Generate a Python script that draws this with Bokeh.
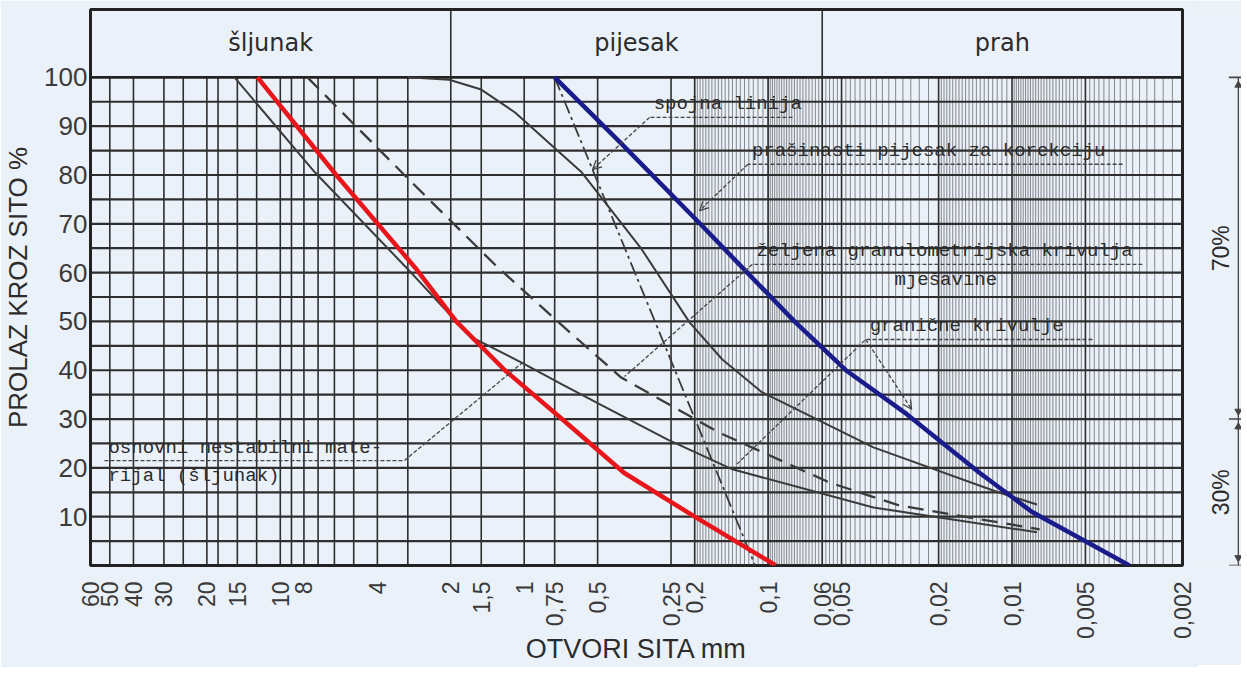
import numpy as np
from bokeh.plotting import figure
from bokeh.models import Range1d, FixedTicker, CustomJSTickFormatter, Arrow, OpenHead
from bokeh.layouts import row
from bokeh.embed import file_html
from bokeh.resources import INLINE
from bokeh.core.properties import value

# ---------------- data ----------------
# sieve openings (mm) used as axis labels
x_tick_values = [60, 50, 40, 30, 20, 15, 10, 8, 4, 2, 1.5, 1, 0.75, 0.5,
                 0.25, 0.2, 0.1, 0.06, 0.05, 0.02, 0.01, 0.005, 0.002]
y_tick_values = [10, 20, 30, 40, 50, 60, 70, 80, 90, 100]

# soil classes in the header row and their size limits (mm)
classes = ["šljunak", "pijesak", "prah"]
class_bounds = [60, 2, 0.06, 0.002]

# main vertical grid (sieve sizes, mm)
grid_sizes = [50, 40, 30, 25, 20, 18, 15, 12.5, 10, 9, 8, 7, 6, 5, 4, 3, 2,
              1.5, 1, 0.75, 0.5, 0.25, 0.2, 0.1, 0.06, 0.05, 0.02, 0.01, 0.005]

# red curve
red_size = [12.4, 5.9, 2.8, 1.9, 1.2, 0.70, 0.39, 0.20, 0.093]
red_pass = [100, 80, 61, 50, 40, 30, 19, 10, 0]

# blue curve - prašinasti pijesak za korekciju
blue_size = [0.75, 0.41, 0.19, 0.078, 0.048, 0.027, 0.0136, 0.0083, 0.0033]
blue_pass = [100, 87, 70, 50, 40, 31, 19, 11, 0]

# lower solid grey curve - osnovni nestabilni materijal / granična krivulja
g1_size = [15.4, 7.2, 3.0, 2.15, 1.63, 1.02, 0.70, 0.48, 0.258, 0.14, 0.037, 0.0079]
g1_pass = [100, 80.5, 60.7, 52.9, 46.7, 41.5, 37.1, 32.8, 25.8, 19.7, 11.9, 6.8]

# upper solid grey curve - granična krivulja
g2_size = [3.0, 2.03, 1.5, 1.09, 0.58, 0.33, 0.21, 0.154, 0.106, 0.037, 0.0114, 0.0079]
g2_pass = [100, 99.5, 97.5, 92.8, 80.5, 64.8, 49.8, 42.2, 35.5, 24.2, 15, 12.5]

# dashed curve - željena granulometrijska krivulja mješavine
mix_size = [7.74, 3.1, 1.31, 0.73, 0.40, 0.16, 0.056, 0.029, 0.0077]
mix_pass = [100, 80, 61.5, 50, 38.5, 27.3, 17, 12.3, 7.4]

# spojna linija (connecting line)
link_size = [0.75, 0.113]
link_pass = [100, 0]

# proportions on the right
split_pass = [0, 30, 100]
share_labels = ["30%", "70%"]

# ---------------- styling ----------------
BG = "#ebf1f9"
INK = "#2e2e2e"
CURVE = "#3b3b3b"
TXT = "#2c2c2c"
Y_TOP = 113.9

p = figure(x_axis_type="log", x_range=Range1d(60, 0.002), y_range=Range1d(0, Y_TOP),
           frame_width=1092, frame_height=556,
           min_border_left=80, min_border_right=16, min_border_top=9, min_border_bottom=100,
           output_backend="svg", toolbar_location=None,
           background_fill_color=BG, border_fill_color=BG)
p.xgrid.visible = False
p.ygrid.visible = False
p.outline_line_color = "#222222"
p.outline_line_width = 3

# x axis
p.xaxis.ticker = FixedTicker(ticks=x_tick_values, minor_ticks=[])
p.xaxis.formatter = CustomJSTickFormatter(code="return String(tick).replace('.', ',');")
p.xaxis.major_label_orientation = np.pi / 2
p.xaxis.major_label_text_font = "Liberation Sans"
p.xaxis.major_label_text_font_size = "23px"
p.xaxis.major_label_text_color = "#3a3a3a"
p.xaxis.major_label_standoff = 16
p.xaxis.major_tick_out = 0
p.xaxis.major_tick_in = 0
p.xaxis.major_tick_line_color = None
p.xaxis.minor_tick_line_color = None
p.xaxis.axis_line_color = None
p.xaxis.axis_label = "OTVORI SITA mm"
p.xaxis.axis_label_text_font = "Liberation Sans"
p.xaxis.axis_label_text_font_size = "27px"
p.xaxis.axis_label_text_font_style = "normal"
p.xaxis.axis_label_text_color = TXT
p.xaxis.axis_label_standoff = -8

# y axis
p.yaxis.ticker = FixedTicker(ticks=y_tick_values, minor_ticks=[])
p.yaxis.major_label_text_font = "Liberation Sans"
p.yaxis.major_label_text_font_size = "26px"
p.yaxis.major_label_text_color = "#3a3a3a"
p.yaxis.major_label_standoff = 3
p.yaxis.major_tick_out = 0
p.yaxis.major_tick_in = 0
p.yaxis.major_tick_line_color = None
p.yaxis.minor_tick_line_color = None
p.yaxis.axis_line_color = None
p.yaxis.axis_label = "PROLAZ KROZ SITO %"
p.yaxis.axis_label_text_font = "Liberation Sans"
p.yaxis.axis_label_text_font_size = "26px"
p.yaxis.axis_label_text_font_style = "normal"
p.yaxis.axis_label_text_color = TXT
p.yaxis.axis_label_standoff = 8

# fine hatching of the fine-grained part of the sieve scale
fine_sizes = np.concatenate([
    np.arange(0.105, 0.2, 0.005),
    np.arange(0.022, 0.1, 0.002),
    np.arange(0.0105, 0.02, 0.0005),
    np.arange(0.0022, 0.01, 0.0002),
])
p.segment(x0=fine_sizes, y0=0, x1=fine_sizes, y1=100,
          line_color="#4a4a4a", line_width=0.9, line_alpha=0.7)

# main vertical grid
p.segment(x0=grid_sizes, y0=0, x1=grid_sizes, y1=100,
          line_color=INK, line_width=1.6)

# horizontal grid every 5 %
h_levels = list(range(5, 100, 5))
p.segment(x0=60, y0=h_levels, x1=0.002, y1=h_levels, line_color=INK, line_width=2.2)
p.segment(x0=60, y0=100, x1=0.002, y1=100, line_color="#222222", line_width=2.8)

# header: class dividers and names
p.segment(x0=class_bounds[1:-1], y0=100, x1=class_bounds[1:-1], y1=Y_TOP,
          line_color=INK, line_width=1.6)
hdr_x = [float(np.sqrt(a * b)) for a, b in zip(class_bounds[:-1], class_bounds[1:])]
p.text(x=hdr_x, y=[(100 + Y_TOP) / 2] * len(classes), text=classes,
       text_font=value("DejaVu Sans"), text_font_size="24px", text_color=TXT,
       text_align="center", text_baseline="middle")

# curves
p.line(g1_size, g1_pass, line_color=CURVE, line_width=2)
p.line(g2_size, g2_pass, line_color=CURVE, line_width=2)
p.line(mix_size, mix_pass, line_color=CURVE, line_width=2.3, line_dash="16 9")
p.line(link_size, link_pass, line_color=CURVE, line_width=1.8, line_dash="14 4 3 4")
p.line(red_size, red_pass, line_color="#e8161b", line_width=4.5)
p.line(blue_size, blue_pass, line_color="#1b1c8c", line_width=4.5)

# ---------------- annotations (leaders + labels) ----------------
LEAD = "#444444"
leaders_x = [
    [0.0794, 0.306],                 # spojna linija underline
    [0.00352, 0.121],                # prašinasti underline
    [0.00292, 0.116, 0.388],         # željena underline + leader
    [0.00468, 0.0398, 0.136],        # granične underline + left leader
    [52.6, 3.1, 1.02],               # osnovni underline + leader
]
leaders_y = [
    [91.8, 91.8],
    [82.2, 82.2],
    [61.7, 61.7, 38.7],
    [46.3, 46.3, 20.5],
    [21.5, 21.5, 41.5],
]
p.multi_line(leaders_x, leaders_y, line_color=LEAD, line_width=1.3, line_dash="4 2")

for xs, ys, xe, ye in [(0.306, 91.8, 0.525, 81.1),
                       (0.121, 82.2, 0.191, 72.7),
                       (0.0398, 46.3, 0.0258, 32.0)]:
    p.add_layout(Arrow(end=OpenHead(size=9, line_color=LEAD, line_width=1.3),
                       x_start=xs, y_start=ys, x_end=xe, y_end=ye,
                       line_color=LEAD, line_width=1.3, line_dash="4 2"))

note_text = ["spojna linija", "prašinasti pijesak za korekciju",
             "željena granulometrijska krivulja", "mješavine",
             "granične krivulje", "osnovni nestabilni mate-", "rijal (šljunak)"]
note_x = [0.306, 0.121, 0.116, 0.0315, 0.0398, 52.6, 52.6]
note_y = [91.8, 82.2, 61.7, 55.9, 46.3, 21.5, 15.6]
p.text(x=note_x, y=note_y, text=note_text, x_offset=4, y_offset=-2,
       text_font=value("Liberation Mono"), text_font_size="19px", text_color=TXT,
       text_align="left", text_baseline="bottom")

# ---------------- right-hand proportion bracket ----------------
p2 = figure(x_range=Range1d(0, 1), y_range=Range1d(0, Y_TOP),
            frame_width=45, frame_height=556,
            min_border_left=0, min_border_right=0, min_border_top=9, min_border_bottom=100,
            x_axis_location=None, y_axis_location=None,
            output_backend="svg", toolbar_location=None,
            background_fill_color=BG, border_fill_color=BG,
            margin=(0, 0, 0, -2))
p2.xgrid.visible = False
p2.ygrid.visible = False
p2.outline_line_color = None

p2.segment(x0=0.93, y0=split_pass[0], x1=0.93, y1=split_pass[-1], line_color=LEAD, line_width=1.3)
p2.segment(x0=0.72, y0=split_pass, x1=1.0, y1=split_pass, line_color=LEAD, line_width=1.6)
up_y = [v - 1.6 for v in split_pass[1:]]
down_y = [v + 1.6 for v in split_pass[:-1]]
p2.scatter(x=[0.93] * len(up_y), y=up_y, marker="triangle", size=7, color=LEAD)
p2.scatter(x=[0.93] * len(down_y), y=down_y, marker="inverted_triangle", size=7, color=LEAD)
mid_y = [(a + b) / 2 for a, b in zip(split_pass[:-1], split_pass[1:])]
p2.text(x=[0.55] * len(mid_y), y=mid_y, text=share_labels, angle=np.pi / 2,
        text_font=value("Liberation Sans"), text_font_size="23px", text_color=TXT,
        text_align="center", text_baseline="middle")

layout = row(p, p2)
open("out.html", "w").write(file_html(layout, INLINE))
